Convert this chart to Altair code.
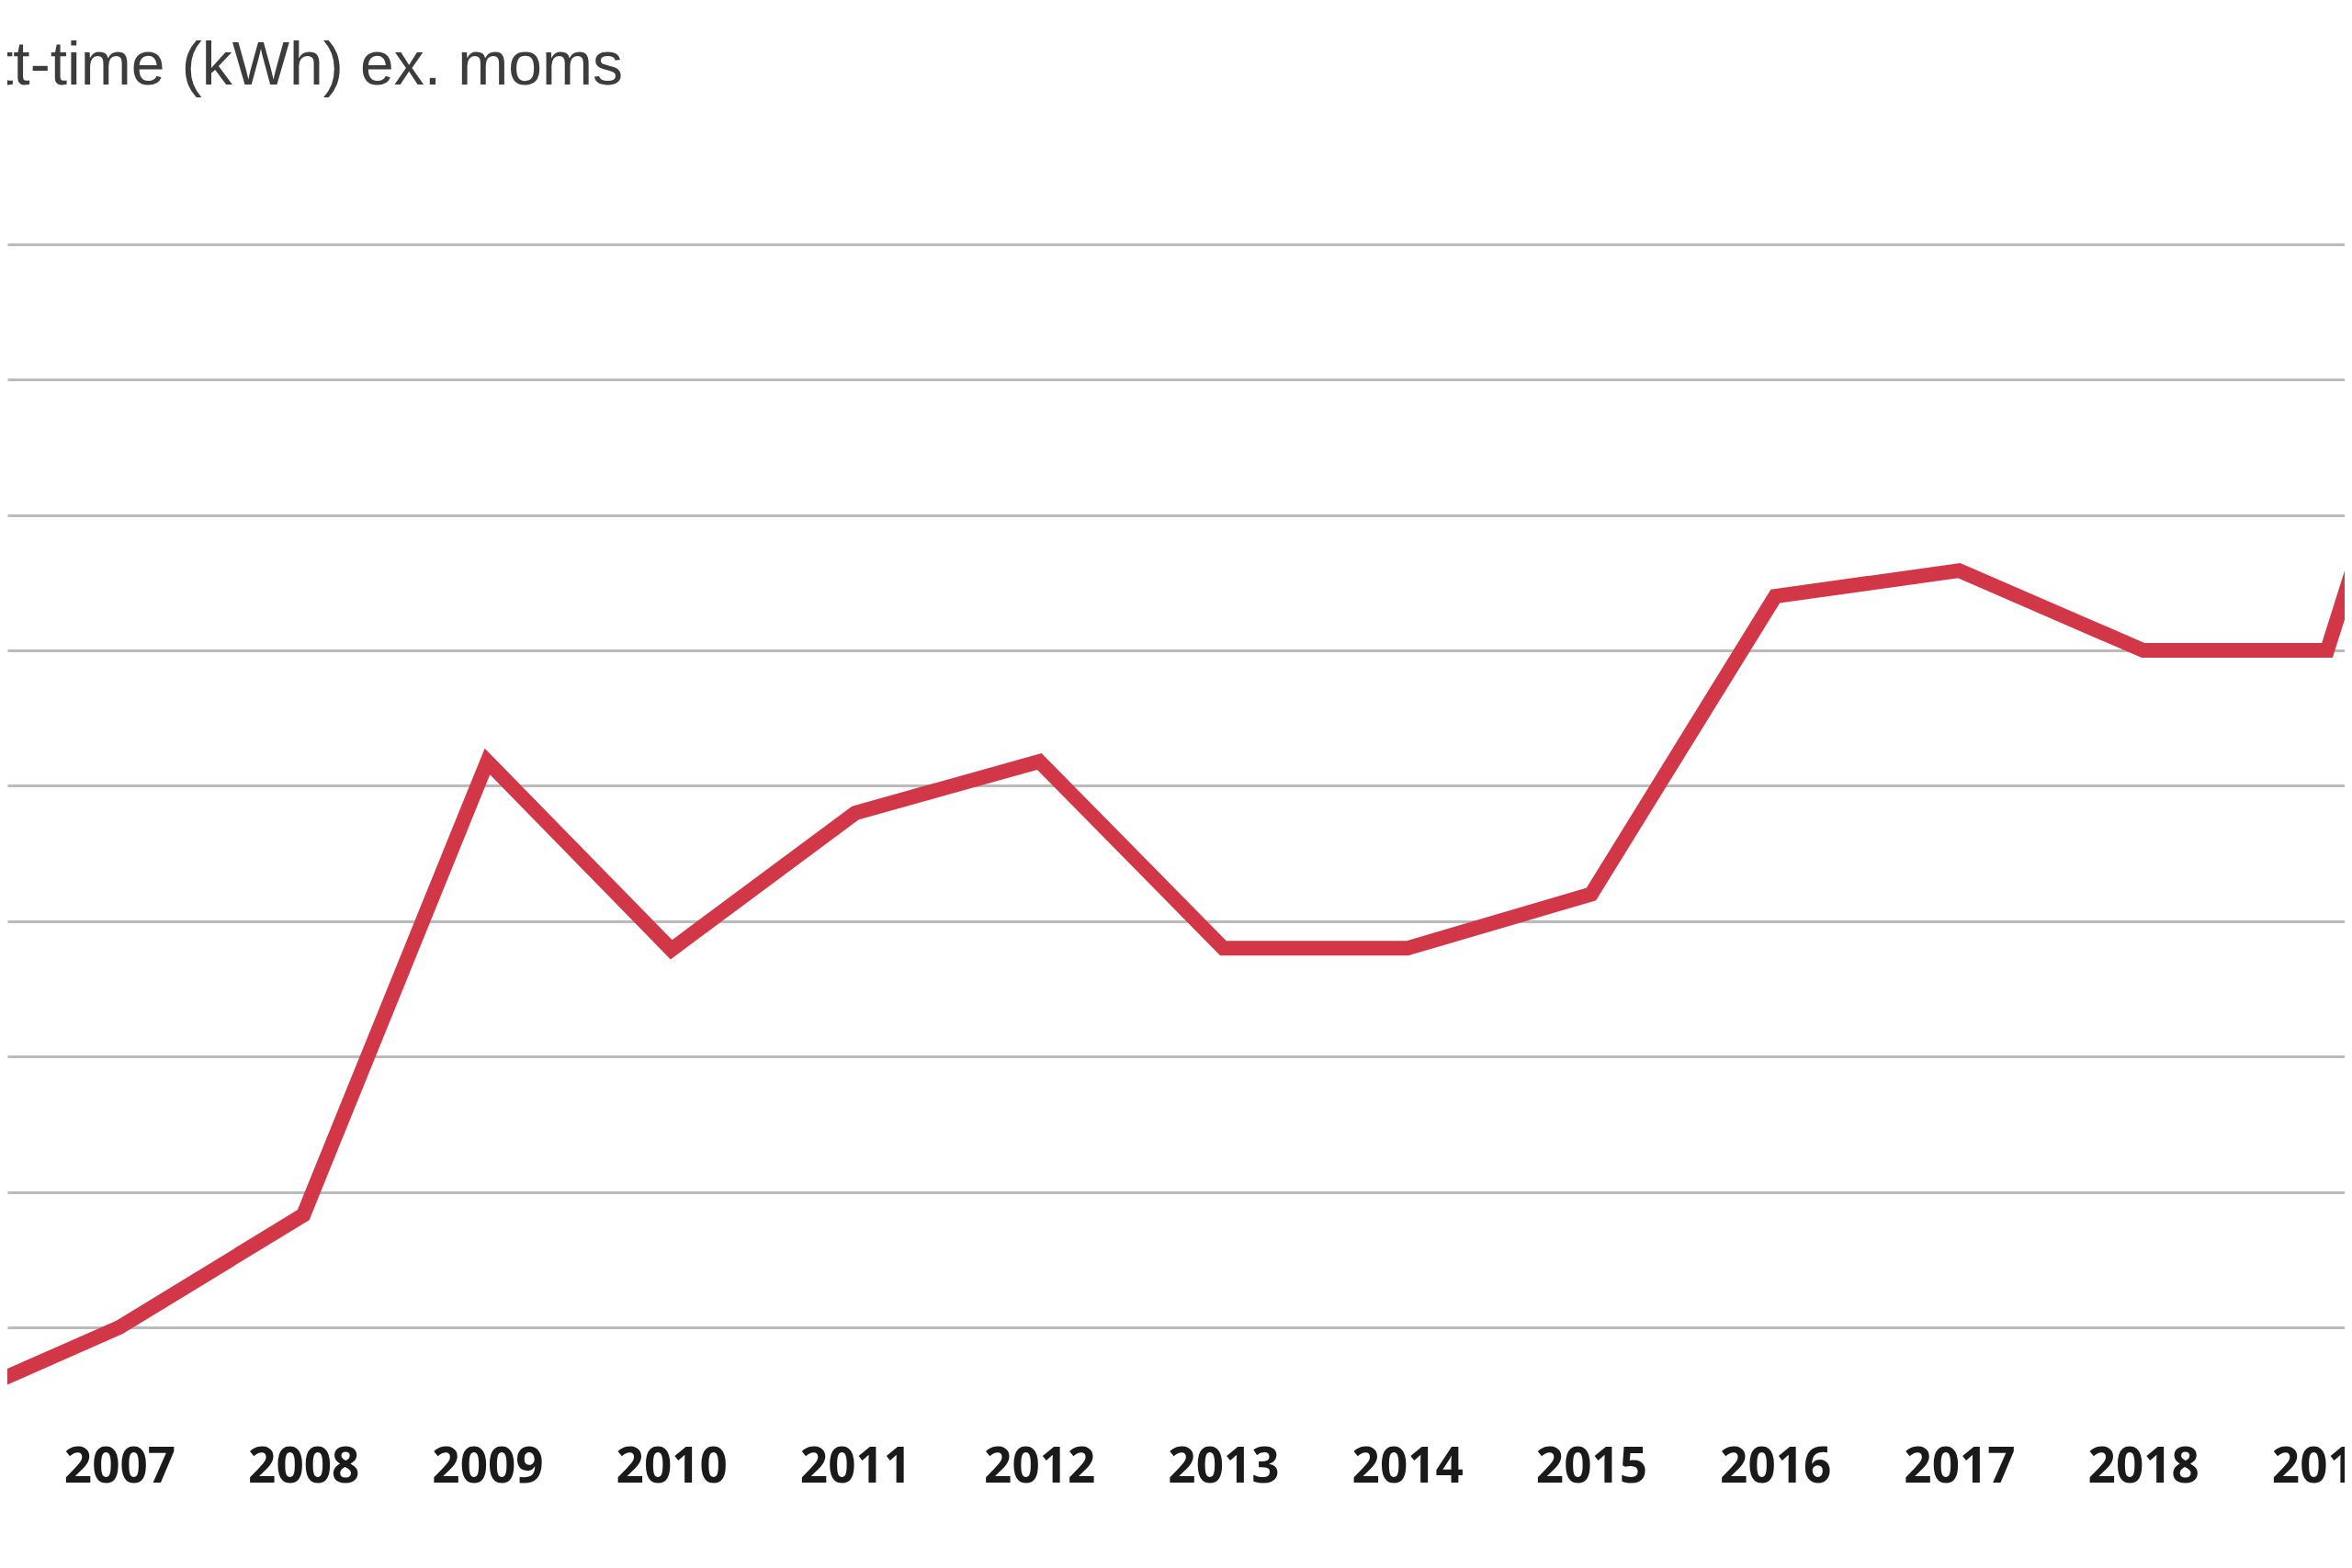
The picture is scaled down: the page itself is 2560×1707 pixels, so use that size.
import altair as alt
import pandas as pd

# Data (grid spacing = 10 units; axis labels are cropped out in the reference)
years = [2006, 2007, 2008, 2009, 2010, 2011, 2012, 2013, 2014, 2015, 2016, 2017, 2018, 2019, 2020]
prices = [4.0, 10.0, 18.3, 51.8, 37.9, 48.0, 51.8, 38.0, 38.0, 42.0, 64.0, 65.9, 60.0, 60.0, 103.0]
tick_years = [2007, 2008, 2009, 2010, 2011, 2012, 2013, 2014, 2015, 2016, 2017, 2018, 2019]
grid_values = [10, 20, 30, 40, 50, 60, 70, 80, 90]
title_text = ["tt-time (kWh) ex. moms"]

df = pd.DataFrame({"year": years, "price": prices})
title_df = pd.DataFrame({"t": title_text})

W, H = 2544, 1532
x_scale = alt.Scale(domain=[2006.391, 2019.095], nice=False, zero=False)
y_scale = alt.Scale(domain=[3.554, 107.506], nice=False, zero=False)

line = alt.Chart(df).mark_line(
    color="#D23748", strokeWidth=16, clip=True, strokeJoin="miter"
).encode(
    x=alt.X(
        "year:Q",
        scale=x_scale,
        axis=alt.Axis(
            values=tick_years, format="d", title=None, grid=False, domain=False,
            ticks=False, tickSize=0, labelFlush=False, labelOverlap=False,
            labelPadding=31, labelFont="Open Sans", labelFontSize=53,
            labelFontWeight="bold", labelColor="#1a1a1a",
        ),
    ),
    y=alt.Y(
        "price:Q",
        scale=y_scale,
        axis=alt.Axis(
            values=grid_values, title=None, labels=False, ticks=False, domain=False,
            grid=True, gridColor="#BBBBBB", gridWidth=3,
        ),
    ),
)

title = alt.Chart(title_df).mark_text(
    align="left", baseline="alphabetic", font="Liberation Sans", fontSize=66, color="#3c3c3c"
).encode(x=alt.value(-12), y=alt.value(84), text="t:N")

chart = alt.layer(line, title).properties(
    width=W, height=H,
    autosize=alt.AutoSizeParams(type="none"),
    padding={"left": 0, "top": 0, "right": 0, "bottom": 160},
).configure_view(stroke=None)

chart.save("out.html", embed_options={"renderer": "svg", "actions": False})
